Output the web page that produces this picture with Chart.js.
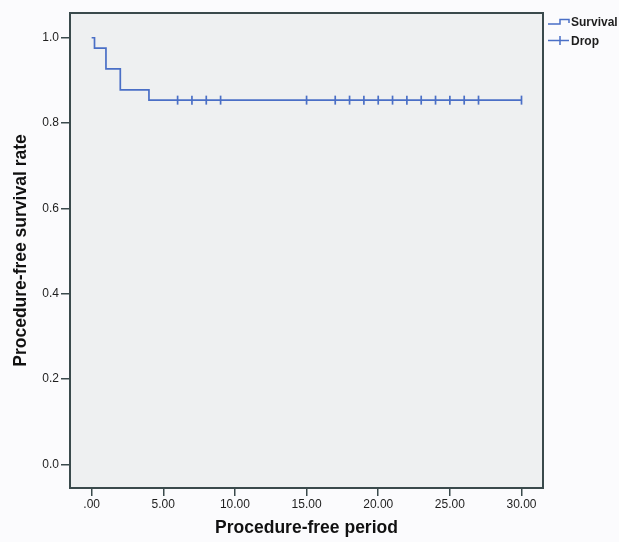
<!DOCTYPE html>
<html>
<head>
<meta charset="utf-8">
<script src="https://cdn.jsdelivr.net/npm/chart.js@4.4.1/dist/chart.umd.min.js"></script>
<style>
  html, body { margin: 0; padding: 0; background: #fbfbfd; }
  #wrap { width: 619px; height: 542px; }
</style>
</head>
<body>
<div id="wrap"><canvas id="c" width="619" height="542"></canvas></div>
<script>
// ---- Data ----
const stepTimes = [0, 0.2, 1, 2, 4, 30];
const survivalRates = [1.0, 0.9756, 0.9268, 0.8780, 0.8537, 0.8537];
const censorTimes = [6, 7, 8, 9, 15, 17, 18, 19, 20, 21, 22, 23, 24, 25, 26, 27, 30];
const censorRates = [0.8537, 0.8537, 0.8537, 0.8537, 0.8537, 0.8537, 0.8537, 0.8537, 0.8537, 0.8537, 0.8537, 0.8537, 0.8537, 0.8537, 0.8537, 0.8537, 0.8537];
const xTickValues = [0, 5, 10, 15, 20, 25, 30];
const xTickLabels = ['.00', '5.00', '10.00', '15.00', '20.00', '25.00', '30.00'];
const yTickValues = [0, 0.2, 0.4, 0.6, 0.8, 1.0];
const yTickLabels = ['0.0', '0.2', '0.4', '0.6', '0.8', '1.0'];
const seriesNames = ['Survival', 'Drop'];
const xTitle = 'Procedure-free period';
const yTitle = 'Procedure-free survival rate';

const lineColor = '#4a6fc6';
const frameColor = '#3a4a4c';
const textColor = '#1e1e1e';
const FONT = "'Liberation Sans', Arial, sans-serif";

const survivalPoints = stepTimes.map((t, i) => ({ x: t, y: survivalRates[i] }));
const censorPoints = censorTimes.map((t, i) => ({ x: t, y: censorRates[i] }));

const bgPlugin = {
  id: 'bg',
  beforeDraw(chart) {
    const { ctx, chartArea: a } = chart;
    ctx.save();
    ctx.fillStyle = '#fbfbfd';
    ctx.fillRect(0, 0, chart.width, chart.height);
    ctx.fillStyle = '#eef0f1';
    ctx.fillRect(a.left, a.top, a.right - a.left, a.bottom - a.top);
    ctx.restore();
  },
  afterDatasetsDraw(chart) {
    const { ctx, chartArea: a } = chart;
    ctx.save();
    ctx.strokeStyle = frameColor;
    ctx.lineWidth = 2;
    ctx.strokeRect(a.left, a.top, a.right - a.left, a.bottom - a.top);
    ctx.restore();
  },
  afterDraw(chart) {
    const { ctx } = chart;
    ctx.save();
    ctx.strokeStyle = lineColor;
    ctx.lineWidth = 1.5;
    // Survival icon (step)
    ctx.beginPath();
    ctx.moveTo(548, 24);
    ctx.lineTo(560, 24);
    ctx.lineTo(560, 19.5);
    ctx.lineTo(569, 19.5);
    ctx.lineTo(569, 23);
    ctx.stroke();
    // Drop icon (plus)
    ctx.beginPath();
    ctx.moveTo(548, 40.5);
    ctx.lineTo(569, 40.5);
    ctx.moveTo(560, 36);
    ctx.lineTo(560, 45);
    ctx.stroke();
    ctx.fillStyle = textColor;
    ctx.font = 'bold 12px ' + FONT;
    ctx.textBaseline = 'middle';
    ctx.textAlign = 'left';
    ctx.fillText(seriesNames[0], 571, 23);
    ctx.fillText(seriesNames[1], 571, 41.5);
    ctx.restore();
  }
};

new Chart(document.getElementById('c'), {
  type: 'scatter',
  data: {
    datasets: [
      {
        label: seriesNames[0],
        data: survivalPoints,
        showLine: true,
        stepped: true,
        borderColor: lineColor,
        borderWidth: 1.7,
        pointRadius: 0,
        fill: false
      },
      {
        label: seriesNames[1],
        data: censorPoints,
        showLine: false,
        pointStyle: 'line',
        rotation: 90,
        pointRadius: 4.5,
        borderColor: lineColor,
        borderWidth: 1.7
      }
    ]
  },
  options: {
    responsive: false,
    animation: false,
    devicePixelRatio: 1,
    layout: { padding: { top: 13, right: 76, left: 0, bottom: 0 } },
    plugins: { legend: { display: false }, tooltip: { enabled: false } },
    scales: {
      x: {
        type: 'linear',
        min: -1.51,
        max: 31.5,
        afterBuildTicks(scale) { scale.ticks = xTickValues.map(v => ({ value: v })); },
        afterFit(scale) { scale.height = 54; },
        ticks: {
          autoSkip: false,
          maxRotation: 0,
          padding: 1,
          color: textColor,
          font: { family: FONT, size: 12 },
          callback(value) {
            const i = xTickValues.indexOf(value);
            return i >= 0 ? xTickLabels[i] : '';
          }
        },
        grid: { drawOnChartArea: false, drawTicks: true, tickLength: 8, color: frameColor, lineWidth: 1.5 },
        border: { display: false },
        title: {
          display: true,
          text: xTitle,
          color: '#111',
          font: { family: FONT, size: 17.5, weight: 'bold' },
          padding: { top: 0, bottom: 3.5 }
        }
      },
      y: {
        type: 'linear',
        min: -0.0556,
        max: 1.058,
        afterBuildTicks(scale) { scale.ticks = yTickValues.map(v => ({ value: v })); },
        afterFit(scale) { scale.width = 70; },
        ticks: {
          autoSkip: false,
          padding: 2,
          color: textColor,
          font: { family: FONT, size: 12 },
          callback(value) {
            const i = yTickValues.findIndex(v => Math.abs(v - value) < 1e-9);
            return i >= 0 ? yTickLabels[i] : '';
          }
        },
        grid: { drawOnChartArea: false, drawTicks: true, tickLength: 9, color: frameColor, lineWidth: 1.5 },
        border: { display: false },
        title: {
          display: true,
          text: yTitle,
          color: '#111',
          font: { family: FONT, size: 17.5, weight: 'bold' },
          padding: { top: 11, bottom: 0 }
        }
      }
    }
  },
  plugins: [bgPlugin]
});
</script>
</body>
</html>
